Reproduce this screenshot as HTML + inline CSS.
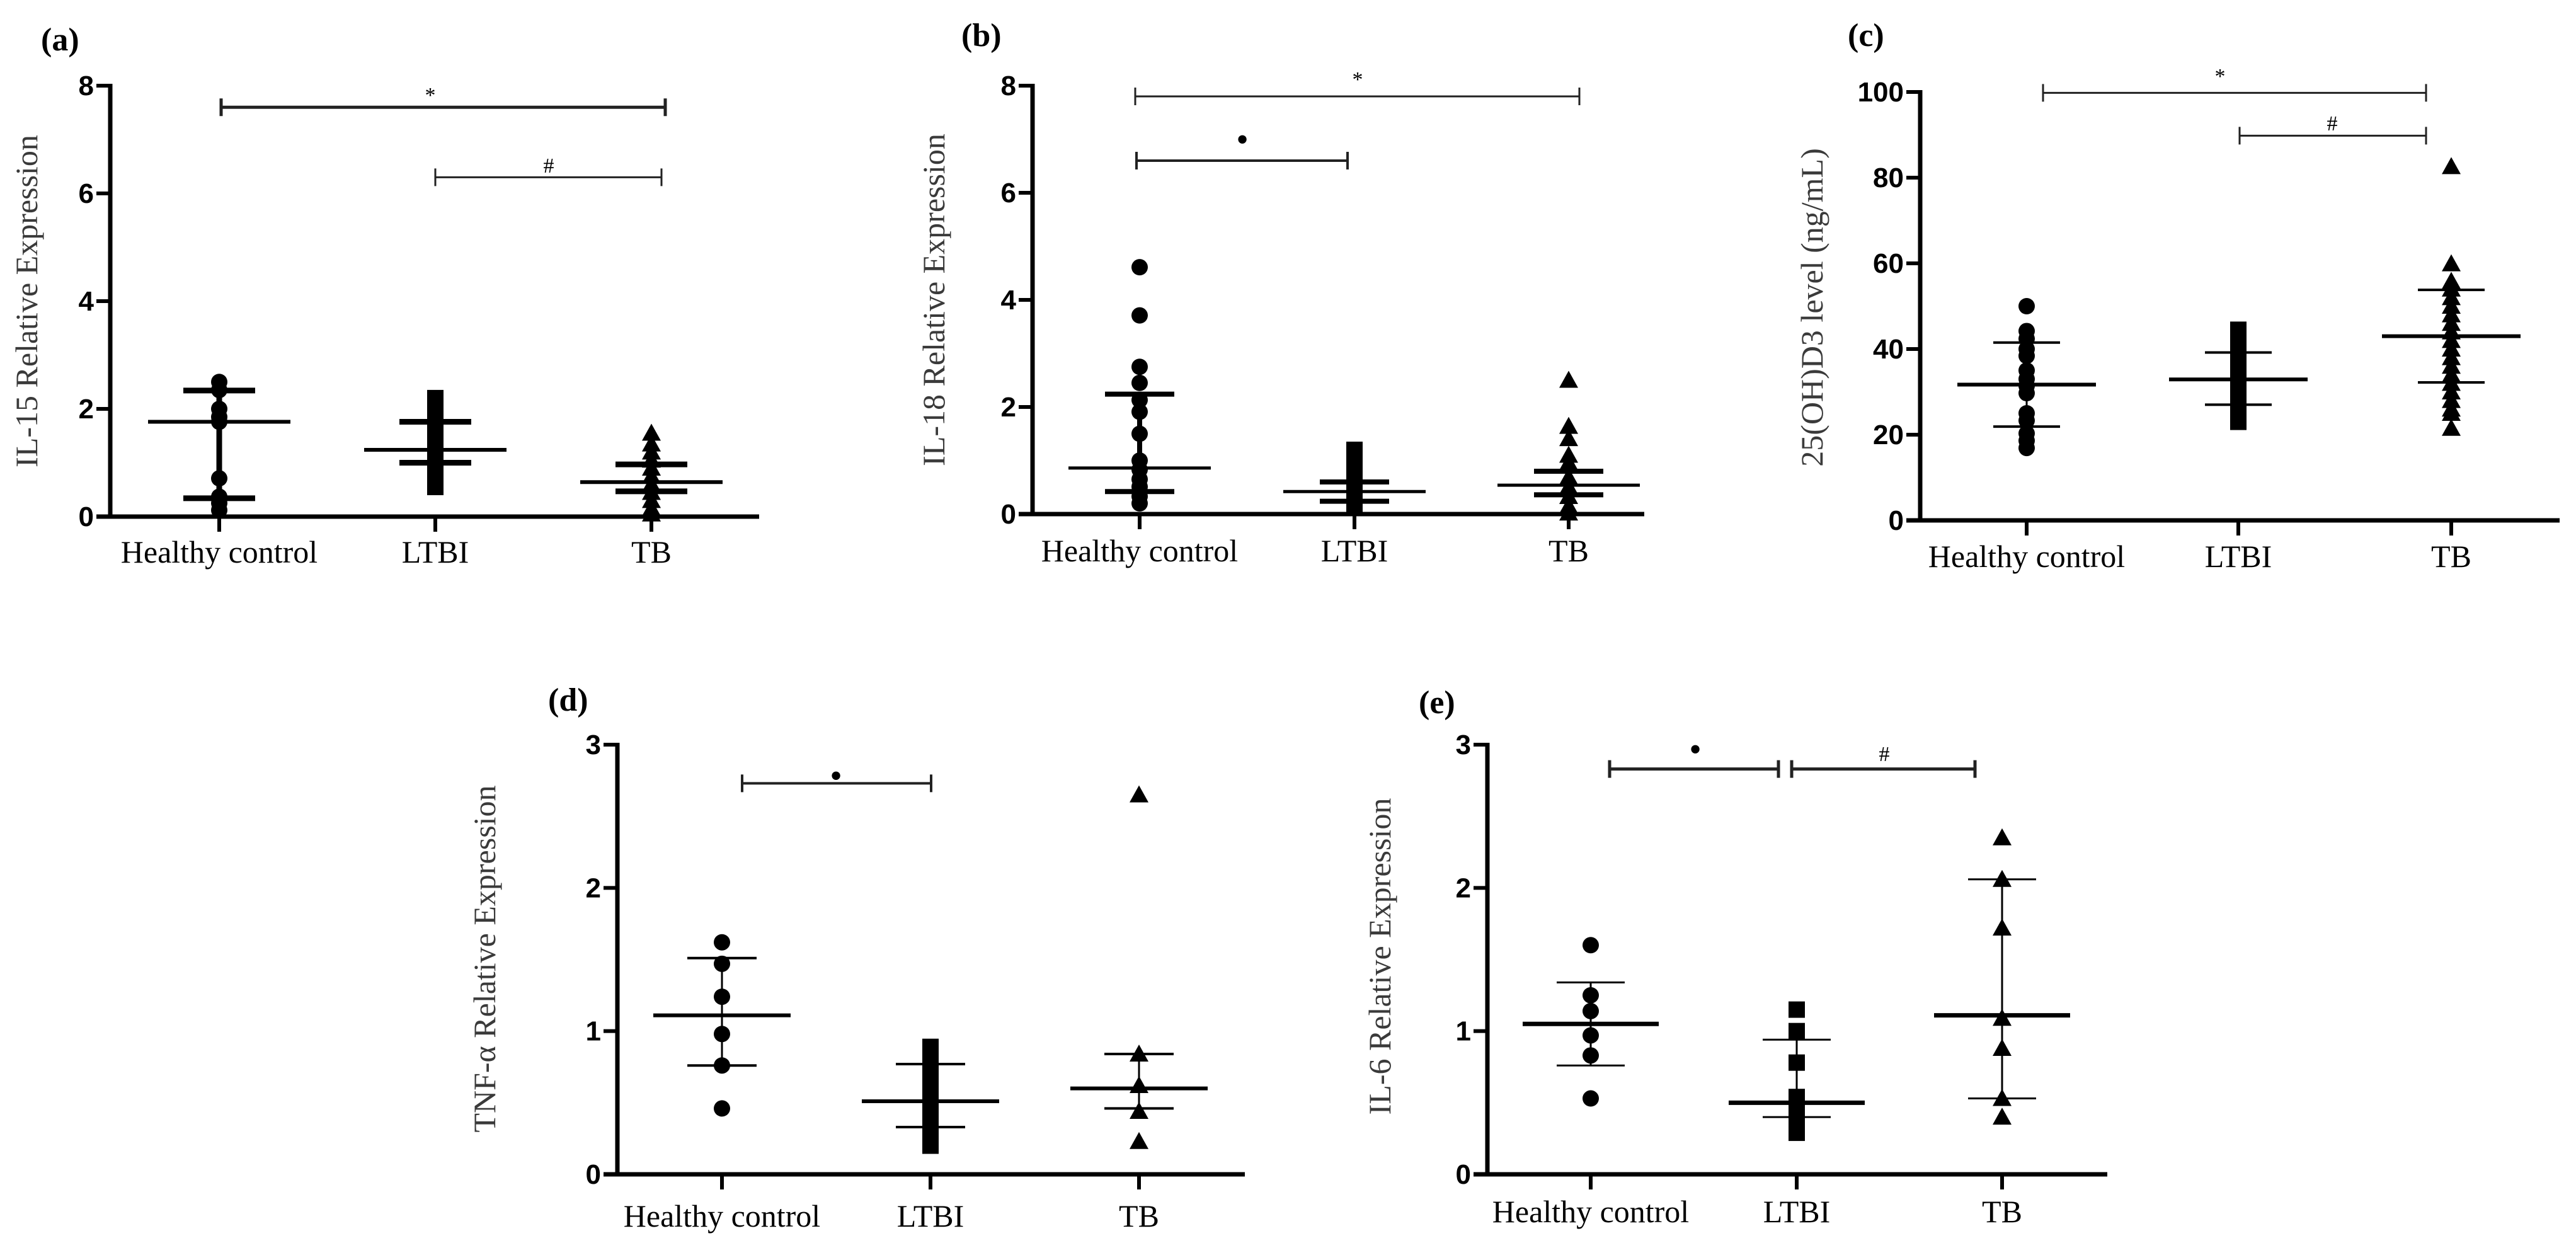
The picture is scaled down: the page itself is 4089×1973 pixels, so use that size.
<!DOCTYPE html>
<html><head><meta charset="utf-8"><style>
html,body{margin:0;padding:0;background:#fff;}
svg{display:block;}
</style></head><body>
<svg id="fig" width="4089" height="1973" viewBox="0 0 4089 1973" xmlns="http://www.w3.org/2000/svg"></svg>
<script>
const categories = ["Healthy control", "LTBI", "TB"];
// panel a: IL-15
const aHC = [2.5, 2.35, 2.0, 1.85, 1.76, 0.71, 0.37, 0.25, 0.12];
const aLTBI = [2.2, 2.0, 1.8, 1.6, 1.45, 1.3, 1.15, 1.0, 0.85, 0.7, 0.55];
const aTB = [1.55, 1.35, 1.2, 1.05, 0.9, 0.75, 0.6, 0.45, 0.3, 0.15, 0.05];
const aMean = [1.76, 1.24, 0.64];
const aUpper = [2.34, 1.76, 0.97];
const aLower = [0.34, 1.0, 0.47];
const aTicks = [0, 2, 4, 6, 8];
// panel b: IL-18
const bHC = [4.61, 3.71, 2.75, 2.45, 2.13, 1.91, 1.5, 1.0, 0.83, 0.65, 0.51, 0.33, 0.2];
const bLTBI = [1.2, 1.0, 0.8, 0.6, 0.45, 0.3, 0.15];
const bTB = [2.5, 1.64, 1.41, 1.1, 0.96, 0.69, 0.51, 0.33, 0.15, 0.02];
const bMean = [0.86, 0.42, 0.54];
const bUpper = [2.24, 0.6, 0.8];
const bLower = [0.42, 0.24, 0.36];
const bTicks = [0, 2, 4, 6, 8];
// panel c: 25(OH)D3
const cHC = [50, 44.2, 42.4, 40, 38.4, 35, 33, 31.4, 29.7, 25, 23.3, 20.3, 18.6, 16.9];
const cLTBI = [44.5, 42, 39, 36, 33, 30, 27, 24.5, 23];
const cTB = [82.6, 59.9, 55.8, 54, 52, 50, 48, 46, 44, 42, 40, 38, 36, 34, 32, 30, 28, 26, 25, 21.5];
const cMean = [31.7, 32.9, 43];
const cUpper = [41.5, 39.2, 53.8];
const cLower = [21.9, 27, 32.2];
const cTicks = [0, 20, 40, 60, 80, 100];
// panel d: TNF-alpha
const dHC = [1.62, 1.47, 1.24, 0.98, 0.76, 0.46];
const dLTBI = [0.89, 0.8, 0.7, 0.6, 0.5, 0.4, 0.3, 0.2];
const dTB = [2.65, 0.84, 0.62, 0.44, 0.23];
const dMean = [1.11, 0.51, 0.6];
const dUpper = [1.51, 0.77, 0.84];
const dLower = [0.76, 0.33, 0.46];
const dTicks = [0, 1, 2, 3];
// panel e: IL-6
const eHC = [1.6, 1.25, 1.14, 0.97, 0.83, 0.53];
const eLTBI = [1.15, 1.0, 0.78, 0.54, 0.47, 0.37, 0.29];
const eTB = [2.35, 2.06, 1.72, 1.09, 0.88, 0.53, 0.4];
const eMean = [1.05, 0.5, 1.11];
const eUpper = [1.34, 0.94, 2.06];
const eLower = [0.76, 0.4, 0.53];
const eTicks = [0, 1, 2, 3];

const NS = "http://www.w3.org/2000/svg";
const svg = document.getElementById("fig");
function mk(tag, attrs, parent) {
  const el = document.createElementNS(NS, tag);
  for (const k in attrs) el.setAttribute(k, attrs[k]);
  (parent || svg).appendChild(el);
  return el;
}

const panels = [
  {id:"a", label:"(a)", lx:65, ly:80, ax:175, y0:820, yTop:136, vmax:8, xEnd:1205, cx:[348,691,1034], title:"IL-15 Relative Expression", tx:42, ty:478, base:893,
   data:[aHC,aLTBI,aTB], mean:aMean, up:aUpper, lo:aLower, ticks:aTicks, hw:113, ew:57, mw:6, erw:9, vw:[9,0,0],
   sig:[{v:7.6,x1:351,x2:1056,sym:"*",sx:683,sy:150,w:5},{v:6.3,x1:691,x2:1050,sym:"#",sx:871,sy:262,w:3}]},
  {id:"b", label:"(b)", lx:1526, ly:73, ax:1639, y0:816, yTop:136, vmax:8, xEnd:2610, cx:[1809,2150,2490], title:"IL-18 Relative Expression", tx:1482, ty:476, base:891,
   data:[bHC,bLTBI,bTB], mean:bMean, up:bUpper, lo:bLower, ticks:bTicks, hw:113, ew:55, mw:5, erw:8, vw:[8,0,0],
   sig:[{v:7.8,x1:1802,x2:2507,sym:"*",sx:2155,sy:125,w:3},{v:6.6,x1:1804,x2:2139,sym:"•",sx:1972,sy:228,w:4}]},
  {id:"c", label:"(c)", lx:2933, ly:73, ax:3048, y0:826, yTop:146, vmax:100, xEnd:4063, cx:[3217,3553,3891], title:"25(OH)D3 level (ng/mL)", tx:2876, ty:488, base:900,
   data:[cHC,cLTBI,cTB], mean:cMean, up:cUpper, lo:cLower, ticks:cTicks, hw:110, ew:53, mw:6, erw:4, vw:[3,0,3],
   sig:[{v:99.8,x1:3243,x2:3851,sym:"*",sx:3524,sy:120,w:3},{v:89.8,x1:3555,x2:3851,sym:"#",sx:3702,sy:195,w:3}]},
  {id:"d", label:"(d)", lx:870, ly:1128, ax:980, y0:1864, yTop:1182, vmax:3, xEnd:1976, cx:[1146,1477,1808], title:"TNF-α Relative Expression", tx:769, ty:1522, base:1947,
   data:[dHC,dLTBI,dTB], mean:dMean, up:dUpper, lo:dLower, ticks:dTicks, hw:109, ew:55, mw:6, erw:4, vw:[3,0,3],
   sig:[{v:2.73,x1:1178,x2:1478,sym:"•",sx:1327,sy:1238,w:4}]},
  {id:"e", label:"(e)", lx:2252, ly:1132, ax:2361, y0:1864, yTop:1182, vmax:3, xEnd:3345, cx:[2525,2852,3178], title:"IL-6 Relative Expression", tx:2190, ty:1518, base:1940,
   data:[eHC,eLTBI,eTB], mean:eMean, up:eUpper, lo:eLower, ticks:eTicks, hw:108, ew:54, mw:7, erw:3, vw:[3,3,3],
   sig:[{v:2.83,x1:2555,x2:2823,sym:"•",sx:2691,sy:1196,w:5},{v:2.83,x1:2844,x2:3135,sym:"#",sx:2991,sy:1196,w:5}]}
];

panels.forEach(p => {
  const g = mk("g", {});
  
  
  const ys = v => p.y0 - (v / p.vmax) * (p.y0 - p.yTop);

  const lab = mk("text", {x:p.lx, y:p.ly, "font-family":"Liberation Serif, serif", "font-weight":"bold", "font-size":52, fill:"#000"}, g);
  lab.textContent = p.label;
  
  

  const tt = mk("text", {x:0, y:0, transform:`translate(${p.tx},${p.ty}) rotate(-90)`, "text-anchor":"middle", "dominant-baseline":"central", "font-family":"Liberation Serif, serif", "font-size":50, fill:"#3a3a3a"}, g);
  tt.textContent = p.title;
  
  

  // axes
  const yax = mk("line", {x1:p.ax, y1:ys(p.vmax)-3, x2:p.ax, y2:p.y0, stroke:"#000", "stroke-width":7}, g);
  
  
  const xax = mk("line", {x1:p.ax-22, y1:p.y0, x2:p.xEnd, y2:p.y0, stroke:"#000", "stroke-width":7}, g);
  
  

  p.ticks.forEach(t => {
    const tk = mk("line", {x1:p.ax-22, y1:ys(t), x2:p.ax, y2:ys(t), stroke:"#000", "stroke-width":6}, g);
    
    
    const tl = mk("text", {x:p.ax-26, y:ys(t)+15, "text-anchor":"end", "font-family":"Liberation Sans, sans-serif", "font-weight":"bold", "font-size":44, fill:"#000"}, g);
    tl.textContent = t;
    
    
  });

  categories.forEach((c, i) => {
    const x = p.cx[i];
    const tk = mk("line", {x1:x, y1:p.y0, x2:x, y2:p.y0+24, stroke:"#000", "stroke-width":6}, g);
    
    
    const cl = mk("text", {x:x, y:p.base, "text-anchor":"middle", "font-family":"Liberation Serif, serif", "font-size":50, fill:"#000"}, g);
    cl.textContent = c;
    
    

    // vertical error line
    if (p.vw[i] > 0) {
      const vl = mk("line", {x1:x, y1:ys(p.up[i]), x2:x, y2:ys(p.lo[i]), stroke:"#000", "stroke-width":p.vw[i]}, g);
      
      
    }
    // markers
    p.data[i].forEach(v => {
      const y = ys(v);
      let m;
      if (i === 0) m = mk("circle", {cx:x, cy:y, r:13, fill:"#000"}, g);
      else if (i === 1) m = mk("rect", {x:x-13, y:y-13, width:26, height:26, fill:"#000"}, g);
      else m = mk("polygon", {points:`${x},${y-15} ${x-15},${y+12} ${x+15},${y+12}`, fill:"#000"}, g);
      
      
    });
    // mean + error caps
    const ml = mk("line", {x1:x-p.hw, y1:ys(p.mean[i]), x2:x+p.hw, y2:ys(p.mean[i]), stroke:"#000", "stroke-width":p.mw}, g);
    
    
    const u = mk("line", {x1:x-p.ew, y1:ys(p.up[i]), x2:x+p.ew, y2:ys(p.up[i]), stroke:"#000", "stroke-width":p.erw}, g);
    
    
    const l = mk("line", {x1:x-p.ew, y1:ys(p.lo[i]), x2:x+p.ew, y2:ys(p.lo[i]), stroke:"#000", "stroke-width":p.erw}, g);
    
    
  });

  p.sig.forEach(s => {
    const y = ys(s.v);
    const b = mk("path", {d:`M${s.x1},${y-14} V${y+14} M${s.x1},${y} H${s.x2} M${s.x2},${y-14} V${y+14}`, stroke:"#222", "stroke-width":s.w, fill:"none"}, g);
    
    
    const st = mk("text", {x:s.sx, y:s.sy + 12, "text-anchor":"middle", "font-family":"Liberation Serif, serif", "font-size": s.sym === "•" ? 56 : 34, fill:"#000"}, g);
    st.textContent = s.sym;
    
    
  });
});
</script>
</body></html>
